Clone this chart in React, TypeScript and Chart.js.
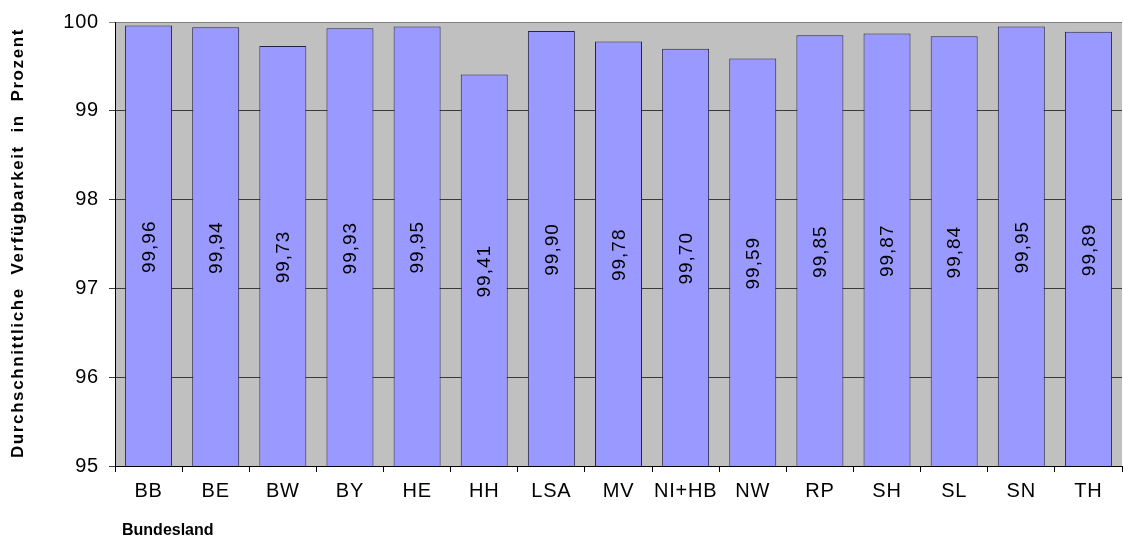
import React, { useEffect, useRef } from "react";
import { Chart, registerables } from "chart.js";

Chart.register(...registerables);

const categories = ["BB", "BE", "BW", "BY", "HE", "HH", "LSA", "MV", "NI+HB", "NW", "RP", "SH", "SL", "SN", "TH"];
const availability = [99.96, 99.94, 99.73, 99.93, 99.95, 99.41, 99.9, 99.78, 99.7, 99.59, 99.85, 99.87, 99.84, 99.95, 99.89];
const yTitle = "Durchschnittliche  Verfügbarkeit  in  Prozent";
const xTitle = "Bundesland";

const FONT = "'Liberation Sans', Arial, sans-serif";

const bgPlugin = {
  id: "bgPlugin",
  beforeDraw(chart: any) {
    const { ctx, chartArea } = chart;
    ctx.save();
    ctx.fillStyle = "#C0C0C0";
    ctx.fillRect(chartArea.left, chartArea.top, chartArea.right - chartArea.left, chartArea.bottom - chartArea.top);
    ctx.restore();
    ctx.letterSpacing = "0.8px";
  },
  afterDraw(chart: any) {
    const { ctx } = chart;
    const yScale = chart.scales.y;
    const basePx = yScale.getPixelForValue(95);
    ctx.save();
    ctx.letterSpacing = "1px";
    const meta = chart.getDatasetMeta(0);
    ctx.fillStyle = "#000";
    ctx.font = `19px ${FONT}`;
    ctx.textAlign = "center";
    ctx.textBaseline = "middle";
    meta.data.forEach((bar: any, i: number) => {
      const v = availability[i];
      const txt = v.toFixed(2).replace(".", ",");
      const topPx = yScale.getPixelForValue(v);
      const cy = (topPx + basePx) / 2;
      ctx.save();
      ctx.translate(bar.x + 1, cy + 1);
      ctx.rotate(-Math.PI / 2);
      ctx.fillText(txt, 0, 0);
      ctx.restore();
    });
    // axis titles
    ctx.letterSpacing = "1.6px";
    ctx.font = `bold 17px ${FONT}`;
    ctx.save();
    ctx.translate(18, 243);
    ctx.rotate(-Math.PI / 2);
    ctx.textAlign = "center";
    ctx.fillText(yTitle, 0, 0);
    ctx.restore();
    ctx.letterSpacing = "0px";
    ctx.font = `bold 16px ${FONT}`;
    ctx.textAlign = "left";
    ctx.fillText(xTitle, 122, 531);
    ctx.restore();
  },
};

export default function App() {
  const ref = useRef<HTMLCanvasElement>(null);
  useEffect(() => {
    document.body.style.margin = "0";
    document.body.style.overflow = "hidden";
    const chart = new Chart(ref.current!, {
      type: "bar",
      data: {
        labels: categories,
        datasets: [
          {
            data: availability,
            backgroundColor: "#9999FF",
            borderColor: "#22224A",
            borderWidth: 1,
            borderSkipped: false,
            categoryPercentage: 1,
            barPercentage: 0.7,
          },
        ],
      },
      options: {
        animation: false,
        responsive: false,
        layout: { padding: { top: 19, right: 1, left: 0, bottom: 0 } },
        plugins: { legend: { display: false }, tooltip: { enabled: false } },
        scales: {
          y: {
            min: 95,
            max: 100,
            afterFit(scale: any) {
              scale.width = 115;
            },
            ticks: { stepSize: 1, color: "#000", font: { family: FONT, size: 20 }, padding: 10 },
            grid: {
              color: (c: any) => (c.tick && c.tick.value === 100 ? "#808080" : "#3a3a3a"),
              lineWidth: 1,
              tickLength: 6,
              drawOnChartArea: true,
            },
            border: { color: "#000", width: 1 },
          },
          x: {
            afterFit(scale: any) {
              scale.height = 74;
            },
            ticks: { color: "#000", font: { family: FONT, size: 20 }, padding: 7, maxRotation: 0 },
            grid: { drawOnChartArea: false, tickLength: 6, color: "#000", offset: true },
            border: { color: "#000", width: 1 },
          },
        },
      },
      plugins: [bgPlugin],
    });
    return () => chart.destroy();
  }, []);
  return (
    <canvas
      ref={ref}
      width={1123}
      height={540}
      style={{ position: "fixed", left: 0, top: 0, width: 1123, height: 540 }}
    />
  );
}
